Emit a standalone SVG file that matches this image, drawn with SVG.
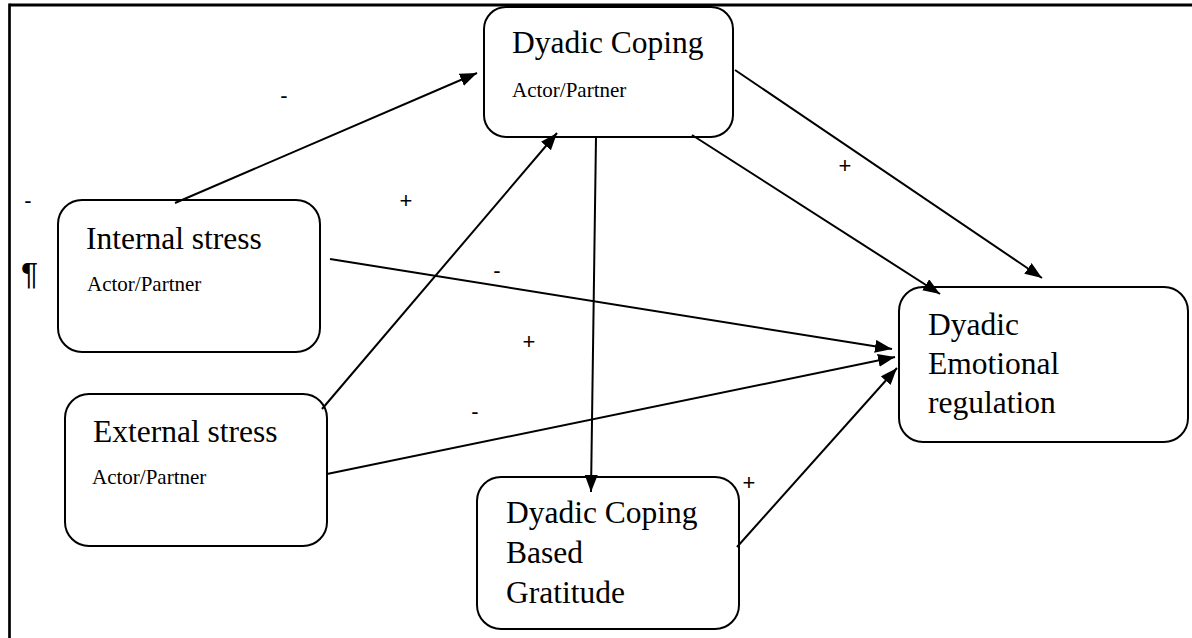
<svg xmlns="http://www.w3.org/2000/svg" width="1192" height="638" viewBox="0 0 1192 638">
<style>
.box{fill:#fff;stroke:#000;stroke-width:2}
.t{font-family:"Liberation Serif","Times New Roman",serif;font-size:31.5px;fill:#000}
.s{font-family:"Liberation Serif","Times New Roman",serif;font-size:21px;fill:#000}
.lbl{font-family:"Liberation Sans",Arial,sans-serif;font-size:22px;fill:#000;text-anchor:middle}
.c{stroke:#000;stroke-width:2;fill:none;marker-end:url(#ah)}
</style>
<defs>
<marker id="ah" markerUnits="userSpaceOnUse" markerWidth="20" markerHeight="16" refX="17" refY="6.5" orient="auto">
<path d="M0,0 L17,6.5 L0,13 Z" fill="#000"/>
</marker>
</defs>
<rect width="1192" height="638" fill="#fff"/>
<g id="frame">
<line x1="9.5" y1="5" x2="1192" y2="5" stroke="#000" stroke-width="3"/>
<line x1="9.5" y1="3.5" x2="9.5" y2="638" stroke="#000" stroke-width="2.7"/>
</g>
<g id="dyadic-coping">
<rect class="box" x="484" y="7" width="249" height="130" rx="22"/>
<text class="t" x="512" y="53">Dyadic Coping</text>
<text class="s" x="512" y="97">Actor/Partner</text>
</g>
<g id="internal-stress">
<rect class="box" x="58" y="200" width="262" height="152" rx="24"/>
<text class="t" x="86" y="249">Internal stress</text>
<text class="s" x="87" y="291">Actor/Partner</text>
</g>
<g id="external-stress">
<rect class="box" x="65" y="394" width="262" height="152" rx="24"/>
<text class="t" x="93" y="442">External stress</text>
<text class="s" x="92" y="484">Actor/Partner</text>
</g>
<g id="dyadic-emotional-regulation">
<rect class="box" x="899" y="287" width="289" height="155" rx="24"/>
<text class="t" x="928" y="335">Dyadic</text>
<text class="t" x="928" y="374">Emotional</text>
<text class="t" x="928" y="413">regulation</text>
</g>
<g id="dcbg">
<rect class="box" x="477" y="477" width="262" height="152" rx="24"/>
<text class="t" x="506" y="523">Dyadic Coping</text>
<text class="t" x="506" y="563">Based</text>
<text class="t" x="506" y="603">Gratitude</text>
</g>
<g id="connectors">
<line class="c" x1="175" y1="203" x2="477" y2="73"/>
<line class="c" x1="322" y1="409" x2="557" y2="133"/>
<line class="c" x1="596" y1="137" x2="591" y2="492"/>
<line class="c" x1="735" y1="70" x2="1042" y2="278"/>
<line class="c" x1="692" y1="135" x2="940" y2="294"/>
<line class="c" x1="330" y1="259" x2="892" y2="349"/>
<line class="c" x1="327" y1="474" x2="895" y2="357"/>
<line class="c" x1="737" y1="547" x2="897" y2="368"/>
</g>
<g id="labels">
<text class="lbl" x="284" y="103">-</text>
<text class="lbl" x="28" y="208">-</text>
<text class="lbl" x="406" y="208">+</text>
<text class="lbl" x="845" y="173">+</text>
<text class="lbl" x="497" y="278">-</text>
<text class="lbl" x="529" y="349">+</text>
<text class="lbl" x="475" y="419">-</text>
<text class="lbl" x="749" y="490">+</text>
<text x="21" y="285" font-family="Liberation Sans,Arial,sans-serif" font-size="32" fill="#000">¶</text>
</g>
</svg>
